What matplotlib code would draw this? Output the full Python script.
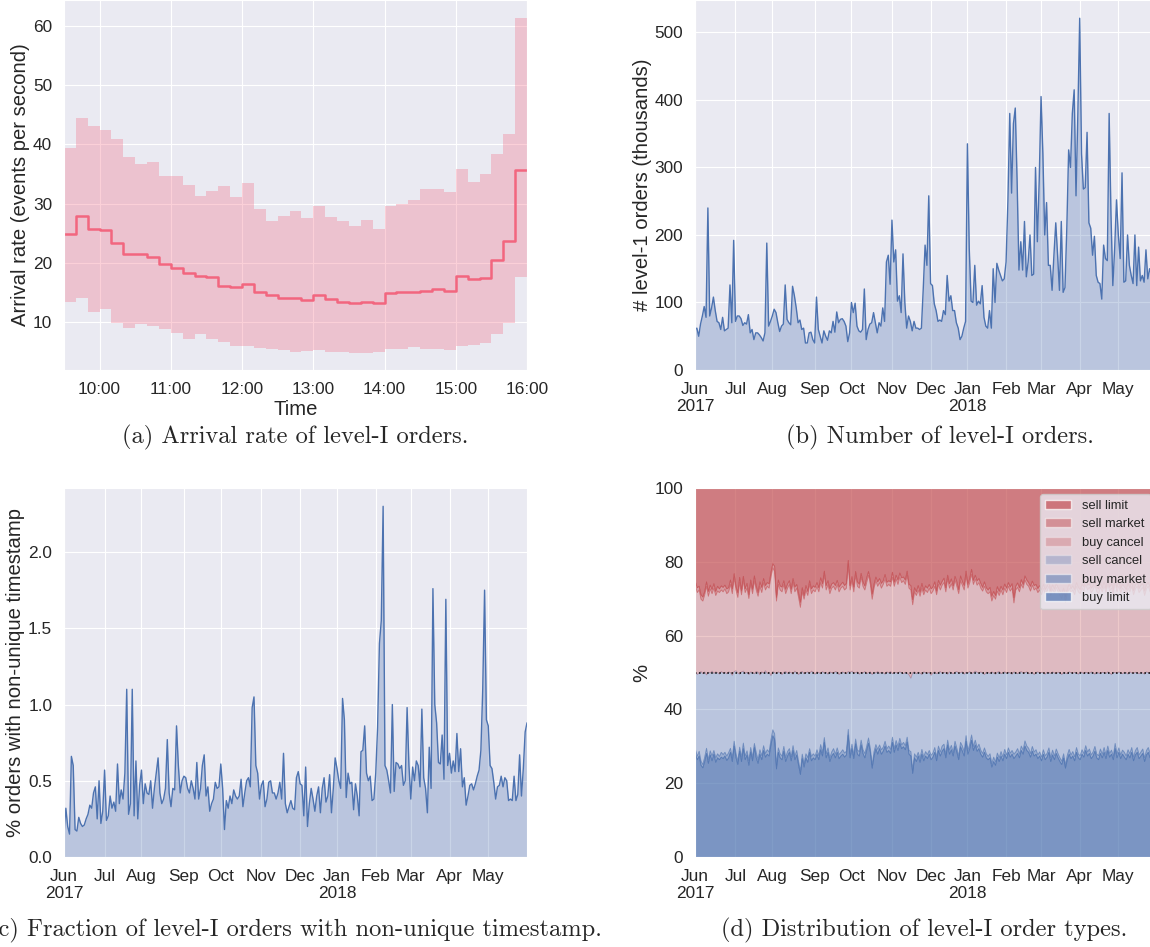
import numpy as np
import pandas as pd
import matplotlib
matplotlib.use("Agg")
import matplotlib.pyplot as plt
import seaborn as sns
from matplotlib.patches import Patch
from matplotlib.ticker import FuncFormatter

sns.set_style("darkgrid")
plt.rcParams["font.family"] = ["Liberation Sans", "DejaVu Sans"]

W, H = 1150, 947

# ---- (a) arrival rate per 10-minute bin, 9:30 - 16:00
rate_mean = [24.9, 27.9, 25.8, 25.5, 23.3, 21.5, 21.5, 21.0, 19.9, 19.2,
             18.4, 17.9, 17.6, 16.2, 15.9, 16.4, 15.1, 14.6, 14.2, 14.2,
             13.8, 14.6, 13.9, 13.4, 13.3, 13.5, 13.2, 14.9, 15.1, 15.2,
             15.3, 15.6, 15.3, 17.8, 17.4, 17.5, 20.6, 23.8, 35.6]
rate_upper = [39.4, 44.5, 43.1, 42.4, 40.9, 37.9, 36.7, 37.0, 34.7, 34.7,
              33.1, 31.3, 32.2, 33.0, 31.1, 33.5, 29.1, 27.1, 27.9, 28.7,
              27.6, 29.6, 27.7, 27.1, 26.2, 27.3, 25.8, 29.6, 30.0, 30.7,
              32.5, 32.5, 32.0, 35.8, 33.7, 35.0, 38.3, 41.8, 61.3]
rate_lower = [13.4, 14.1, 11.7, 12.3, 9.9, 9.1, 9.8, 9.4, 8.9, 8.3,
              7.2, 8.1, 7.2, 6.7, 6.1, 6.1, 5.7, 5.5, 5.4, 5.0,
              5.2, 5.3, 5.1, 5.1, 4.9, 4.8, 5.1, 5.5, 5.5, 5.8,
              5.6, 5.5, 5.3, 6.0, 6.2, 6.6, 8.0, 9.9, 17.7]

# ---- trading days Jun 2017 - May 2018 (NYSE holidays removed)
holidays = ["2017-07-04", "2017-09-04", "2017-11-23", "2017-12-25", "2018-01-01",
            "2018-01-15", "2018-02-19", "2018-03-30", "2018-05-28"]
days = pd.bdate_range("2017-06-01", "2018-05-31", freq="C", holidays=holidays)

# ---- (b) number of level-I orders (thousands)
orders = [60, 62, 50, 68, 80, 94, 78, 240, 80, 92,
          108, 88, 72, 70, 60, 78, 58, 60, 62, 126,
          70, 192, 72, 80, 80, 76, 66, 70, 68, 82,
          55, 60, 45, 55, 55, 52, 48, 43, 55, 188,
          65, 72, 80, 90, 85, 70, 57, 65, 68, 126,
          75, 70, 67, 124, 110, 92, 70, 74, 60, 62,
          40, 40, 55, 56, 45, 40, 108, 60, 50, 40,
          58, 50, 44, 58, 55, 72, 56, 86, 70, 75,
          76, 72, 65, 42, 55, 100, 85, 99, 65, 58,
          56, 60, 120, 45, 60, 68, 70, 85, 70, 55,
          70, 65, 92, 72, 160, 170, 127, 222, 160, 178,
          102, 110, 85, 172, 100, 62, 80, 72, 58, 72,
          62, 62, 60, 62, 120, 185, 155, 258, 128, 125,
          98, 88, 72, 74, 72, 88, 82, 140, 102, 110,
          88, 88, 70, 62, 45, 50, 62, 72, 335, 180,
          102, 100, 155, 96, 102, 98, 125, 78, 65, 62,
          88, 62, 150, 100, 158, 148, 140, 132, 135, 160,
          250, 380, 262, 365, 388, 280, 148, 190, 148, 220,
          138, 160, 200, 140, 142, 300, 190, 280, 405, 320,
          200, 248, 155, 155, 118, 170, 218, 170, 118, 220,
          115, 122, 210, 326, 300, 380, 415, 258, 380, 521,
          320, 268, 270, 352, 218, 210, 170, 198, 140, 130,
          128, 105, 185, 165, 162, 380, 230, 125, 180, 252,
          200, 165, 292, 130, 132, 200, 155, 140, 128, 200,
          125, 182, 132, 140, 130, 178, 135, 150, 140, 135,
          150, 145]

# ---- (c) % orders with non-unique timestamp
nonunique = [0.15, 0.32, 0.20, 0.15, 0.66, 0.60, 0.18, 0.17, 0.26, 0.22,
             0.20, 0.21, 0.25, 0.28, 0.34, 0.32, 0.42, 0.46, 0.25, 0.50,
             0.22, 0.30, 0.57, 0.24, 0.27, 0.40, 0.32, 0.36, 0.30, 0.61,
             0.35, 0.44, 0.38, 0.55, 1.10, 0.28, 0.35, 1.10, 0.27, 0.63,
             0.25, 0.47, 0.57, 0.35, 0.48, 0.42, 0.41, 0.50, 0.32, 0.45,
             0.55, 0.65, 0.42, 0.35, 0.38, 0.45, 0.77, 0.42, 0.33, 0.45,
             0.44, 0.86, 0.60, 0.42, 0.50, 0.53, 0.52, 0.45, 0.42, 0.50,
             0.45, 0.38, 0.62, 0.38, 0.45, 0.60, 0.67, 0.40, 0.46, 0.30,
             0.35, 0.38, 0.49, 0.45, 0.46, 0.61, 0.45, 0.18, 0.37, 0.32,
             0.40, 0.35, 0.44, 0.40, 0.38, 0.40, 0.51, 0.33, 0.42, 0.50,
             0.52, 0.46, 0.98, 1.05, 0.60, 0.55, 0.38, 0.47, 0.50, 0.33,
             0.38, 0.49, 0.50, 0.42, 0.42, 0.38, 0.42, 0.49, 0.38, 0.68,
             0.35, 0.29, 0.33, 0.37, 0.32, 0.31, 0.52, 0.56, 0.48, 0.47,
             0.27, 0.59, 0.20, 0.35, 0.45, 0.38, 0.30, 0.40, 0.46, 0.29,
             0.45, 0.52, 0.36, 0.40, 0.54, 0.29, 0.45, 0.65, 0.58, 0.50,
             0.45, 1.04, 0.90, 0.39, 0.55, 0.48, 0.49, 0.31, 0.48, 0.40,
             0.27, 0.69, 0.70, 0.86, 0.55, 0.50, 0.53, 0.37, 0.38, 0.55,
             0.85, 1.40, 1.55, 2.30, 0.60, 0.57, 0.50, 0.42, 1.00, 0.43,
             0.62, 0.61, 0.58, 0.60, 0.47, 0.50, 0.98, 0.60, 0.38, 0.59,
             0.50, 0.63, 0.60, 0.46, 0.97, 0.52, 0.45, 0.29, 0.72, 0.45,
             1.76, 1.00, 0.88, 0.62, 0.61, 0.80, 0.51, 1.69, 0.60, 0.68,
             0.55, 0.63, 0.56, 0.81, 0.56, 0.71, 0.46, 0.52, 0.34, 0.40,
             0.47, 0.48, 0.44, 0.48, 0.53, 0.57, 0.70, 1.10, 1.75, 0.90,
             0.86, 0.60, 0.58, 0.49, 0.38, 0.46, 0.47, 0.53, 0.46, 0.52,
             0.50, 0.37, 0.38, 0.37, 0.53, 0.37, 0.41, 0.67, 0.40, 0.58,
             0.82, 0.88]

# ---- (d) order type shares (%), stacked from the bottom
buy_limit = [28.0, 26.5, 27.5, 25.0, 24.3, 26.0, 28.2, 25.5, 27.8, 26.2,
             28.0, 25.8, 27.0, 26.5, 27.2, 26.8, 27.5, 26.3, 27.0, 28.5,
             26.0, 30.2, 27.0, 25.2, 28.8, 26.0, 29.5, 26.5, 27.8, 25.0,
             28.6, 26.2, 29.8, 27.0, 25.5, 28.0, 26.5, 29.0, 27.2, 28.0,
             27.5, 30.5, 33.0, 32.0, 24.0, 28.5, 27.0, 26.5, 28.8, 26.0,
             27.5, 28.5, 26.2, 29.0, 26.5, 27.8, 25.0, 22.5, 26.8, 24.5,
             27.0, 25.8, 28.5, 26.2, 27.0, 26.5, 28.0, 26.5, 29.2, 27.5,
             31.2, 27.0, 28.5, 26.0, 27.5, 28.2, 27.0, 28.5, 26.8, 27.5,
             28.0, 27.2, 27.8, 33.2, 27.0, 29.5, 26.8, 30.8, 28.0, 27.5,
             30.5, 28.2, 27.0, 29.0, 31.0, 28.5, 24.2, 27.5, 29.5, 28.0,
             29.5, 28.0, 28.8, 30.2, 28.5, 29.0, 28.2, 31.2, 28.5, 30.5,
             29.0, 31.0, 29.5, 30.0, 29.2, 31.3, 28.0, 27.5, 22.8, 27.0,
             26.0, 27.5, 25.8, 28.0, 26.2, 27.5, 26.8, 28.0, 26.5, 27.2,
             28.5, 26.2, 29.0, 27.5, 28.8, 29.5, 27.0, 30.5, 28.0, 29.2,
             27.5, 30.2, 28.5, 26.5, 30.0, 28.8, 27.5, 31.5, 28.0, 29.5,
             31.8, 29.0, 30.5, 28.8, 29.5, 28.0, 27.2, 28.5, 27.0, 26.5,
             27.0, 24.5, 26.0, 25.0, 27.2, 26.0, 27.5, 26.2, 28.0, 26.8,
             28.5, 27.2, 28.0, 26.8, 27.5, 28.2, 27.0, 29.0, 28.0, 30.2,
             29.0, 28.5, 27.2, 28.8, 27.5, 28.0, 26.8, 27.5, 26.2, 28.0,
             26.5, 27.2, 28.5, 26.0, 27.8, 26.5, 28.2, 27.0, 26.0, 25.2,
             27.0, 24.2, 26.5, 28.0, 26.8, 27.5, 26.2, 28.5, 27.0, 26.5,
             28.0, 27.2, 29.0, 27.5, 28.2, 26.8, 27.5, 28.8, 27.0, 26.5,
             28.2, 27.0, 28.5, 26.8, 29.0, 27.2, 28.0, 26.5, 29.5, 27.0,
             28.5, 26.8, 28.0, 27.2, 26.5, 28.0, 27.0, 28.5, 26.2, 27.8,
             28.5, 26.8, 27.5, 28.2, 26.0, 27.8, 28.5, 27.0, 29.0, 26.8,
             28.0, 27.5]
buy_market = [1.2, 1.0, 1.3, 1.1, 0.9, 1.2, 1.4, 1.0, 1.1, 1.3,
              1.0, 1.2, 1.1, 0.9, 1.3, 1.1, 1.0, 1.2, 1.4, 1.1,
              1.0, 1.3, 1.2, 0.9, 1.1, 1.2, 1.5, 1.0, 1.1, 1.3,
              1.2, 1.0, 1.1, 1.4, 1.0, 1.2, 1.1, 1.3, 1.0, 1.2,
              1.1, 1.4, 1.6, 1.5, 1.0, 1.2, 1.1, 1.0, 1.3, 1.1,
              1.2, 1.0, 1.1, 1.3, 1.0, 1.2, 1.1, 0.9, 1.2, 1.0,
              1.1, 1.3, 1.0, 1.2, 1.1, 1.0, 1.2, 1.1, 1.4, 1.0,
              1.3, 1.1, 1.2, 1.0, 1.1, 1.3, 1.0, 1.2, 1.1, 1.0,
              1.2, 1.1, 1.0, 1.5, 1.1, 1.2, 1.0, 1.3, 1.1, 1.2,
              1.3, 1.0, 1.2, 1.1, 1.4, 1.0, 0.9, 1.2, 1.1, 1.3,
              1.0, 1.2, 1.1, 1.3, 1.0, 1.2, 1.1, 1.4, 1.0, 1.2,
              1.1, 1.3, 1.0, 1.2, 1.1, 1.3, 1.0, 1.2, 0.9, 1.1,
              1.2, 1.0, 1.1, 1.3, 1.0, 1.2, 1.1, 1.0, 1.2, 1.1,
              1.3, 1.0, 1.2, 1.1, 1.4, 1.2, 1.0, 1.3, 1.1, 1.2,
              1.0, 1.3, 1.1, 1.0, 1.2, 1.4, 1.1, 1.5, 1.0, 1.2,
              1.4, 1.1, 1.3, 1.0, 1.2, 1.1, 1.0, 1.2, 1.1, 0.9,
              1.1, 1.0, 1.2, 0.9, 1.1, 1.0, 1.2, 1.1, 1.3, 1.0,
              1.2, 1.1, 1.0, 1.2, 1.1, 1.3, 1.0, 1.2, 1.1, 1.4,
              1.2, 1.1, 1.0, 1.3, 1.1, 1.2, 1.0, 1.1, 1.0, 1.2,
              1.1, 1.0, 1.2, 1.1, 1.3, 1.0, 1.2, 1.1, 1.0, 0.9,
              1.1, 0.9, 1.2, 1.3, 1.0, 1.2, 1.1, 1.3, 1.0, 1.1,
              1.2, 1.0, 1.3, 1.1, 1.2, 1.0, 1.1, 1.3, 1.0, 1.1,
              1.2, 1.0, 1.3, 1.1, 1.2, 1.0, 1.1, 1.0, 1.4, 1.1,
              1.2, 1.0, 1.1, 1.3, 1.0, 1.2, 1.1, 1.3, 1.0, 1.2,
              1.3, 1.0, 1.1, 1.2, 1.0, 1.2, 1.3, 1.1, 1.2, 1.0,
              1.1, 1.2]
# buy limit + buy market + sell cancel
bid_side = [50.2, 49.6, 50.1, 50.4, 49.8, 50.3, 49.5, 50.2, 50.0, 50.5,
            49.9, 50.3, 50.1, 49.7, 50.4, 50.0, 50.2, 49.8, 50.3, 50.1,
            49.4, 50.4, 50.6, 50.0, 49.7, 50.3, 50.5, 49.9, 50.2, 49.6,
            50.3, 50.1, 49.8, 50.4, 50.2, 49.5, 50.3, 50.0, 50.6, 49.9,
            50.2, 49.3, 50.4, 50.1, 49.8, 50.3, 50.0, 49.6, 50.2, 50.4,
            49.9, 50.3, 50.1, 49.7, 50.5, 50.0, 49.6, 50.2, 50.4, 49.8,
            50.1, 50.3, 49.9, 50.5, 50.2, 49.7, 50.3, 50.1, 49.8, 50.4,
            50.0, 50.2, 49.7, 50.3, 50.1, 49.9, 50.4, 50.2, 49.6, 50.1,
            50.3, 50.0, 49.8, 50.4, 50.2, 50.5, 49.9, 50.1, 50.3, 49.7,
            50.2, 50.0, 50.4, 49.8, 50.1, 50.3, 49.6, 50.2, 50.0, 50.4,
            49.9, 50.2, 50.1, 49.7, 50.3, 50.0, 50.4, 49.8, 50.2, 50.1,
            49.9, 50.3, 50.1, 49.8, 50.2, 50.0, 49.5, 48.6, 50.1, 50.3,
            49.8, 50.2, 50.0, 49.6, 50.3, 50.1, 49.9, 50.2, 49.4, 50.0,
            50.3, 49.8, 50.1, 50.4, 49.9, 50.2, 50.0, 49.7, 50.3, 50.1,
            49.8, 50.2, 50.4, 49.9, 50.1, 50.3, 49.7, 50.2, 50.0, 50.4,
            49.8, 50.1, 50.5, 50.2, 49.9, 50.3, 50.0, 49.6, 50.2, 50.1,
            49.9, 50.3, 50.0, 49.7, 50.2, 50.4, 49.8, 50.1, 50.3, 49.9,
            50.2, 50.0, 49.7, 50.3, 50.1, 49.8, 50.2, 50.4, 49.9, 50.1,
            50.3, 49.8, 50.0, 50.2, 49.6, 50.1, 50.3, 49.9, 50.2, 50.0,
            49.7, 50.2, 50.1, 49.9, 50.3, 50.0, 49.8, 50.2, 50.1, 49.6,
            50.2, 50.0, 49.8, 50.3, 50.1, 49.9, 50.2, 50.0, 49.7, 50.3,
            50.1, 49.8, 50.2, 50.0, 49.9, 50.3, 50.1, 49.7, 50.2, 50.0,
            49.8, 50.2, 50.1, 49.9, 50.3, 50.0, 49.6, 50.2, 50.1, 49.9,
            50.3, 50.0, 49.8, 50.2, 50.1, 49.7, 50.3, 50.0, 49.9, 50.2,
            50.1, 49.8, 50.2, 50.0, 49.7, 50.3, 50.1, 49.9, 50.2, 49.0,
            50.1, 50.0]
# bid side + buy cancel
below_sell = [73.5, 71.8, 72.5, 70.0, 69.5, 71.2, 73.5, 70.8, 72.8, 71.5,
              73.0, 71.0, 72.2, 71.8, 72.5, 72.0, 72.8, 71.5, 72.0, 74.0,
              71.5, 75.8, 72.5, 70.5, 74.5, 71.2, 75.0, 71.8, 73.0, 70.2,
              74.2, 71.5, 75.0, 72.5, 70.8, 73.5, 71.8, 74.5, 72.5, 73.5,
              73.0, 76.0, 78.5, 77.5, 69.5, 74.0, 72.5, 72.0, 74.0, 71.5,
              73.0, 74.0, 71.5, 74.5, 72.0, 73.0, 70.5, 67.8, 72.0, 70.0,
              72.5, 71.0, 74.0, 71.5, 72.5, 72.0, 73.5, 72.0, 74.5, 73.0,
              76.5, 72.5, 74.0, 71.5, 73.0, 73.5, 72.5, 74.0, 72.0, 73.0,
              73.5, 72.5, 73.0, 79.5, 72.5, 75.0, 72.0, 76.5, 73.5, 73.0,
              76.0, 73.5, 72.5, 74.5, 76.5, 74.0, 70.0, 73.0, 75.0, 73.5,
              74.5, 73.0, 74.0, 75.5, 73.5, 74.0, 73.5, 76.0, 73.5, 75.5,
              74.0, 76.0, 74.5, 75.0, 74.0, 76.5, 73.0, 72.5, 68.5, 72.0,
              71.0, 72.5, 70.8, 73.0, 71.2, 72.5, 71.8, 73.0, 71.5, 72.2,
              73.5, 71.2, 74.0, 72.5, 73.8, 74.5, 72.0, 75.5, 73.0, 74.2,
              72.5, 75.2, 73.5, 71.5, 75.0, 73.8, 72.5, 76.5, 73.0, 74.5,
              76.8, 74.0, 75.5, 73.8, 74.5, 73.0, 72.2, 73.5, 72.0, 71.5,
              72.0, 69.5, 71.0, 70.0, 72.2, 71.0, 72.5, 71.2, 73.0, 71.8,
              73.5, 72.2, 73.0, 69.0, 72.5, 73.2, 72.0, 74.0, 73.0, 75.2,
              74.0, 73.5, 72.2, 73.8, 72.5, 73.0, 71.8, 72.5, 71.2, 73.0,
              71.5, 72.2, 73.5, 71.0, 72.8, 71.5, 73.2, 72.0, 71.0, 70.2,
              72.0, 69.2, 71.5, 73.0, 71.8, 72.5, 71.2, 73.5, 72.0, 71.5,
              73.0, 72.2, 74.0, 72.5, 73.2, 71.8, 72.5, 73.8, 72.0, 71.5,
              73.2, 72.0, 73.5, 71.8, 74.0, 72.2, 73.0, 71.5, 74.5, 72.0,
              73.5, 71.8, 73.0, 72.2, 71.5, 73.0, 72.0, 73.5, 71.2, 72.8,
              73.5, 71.8, 72.5, 73.2, 71.0, 72.8, 73.5, 72.0, 74.0, 69.0,
              72.5, 72.0]
sell_market = [1.1, 1.3, 1.0, 1.2, 1.1, 0.9, 1.2, 1.3, 1.0, 1.1,
               1.2, 1.1, 1.3, 1.0, 1.1, 1.2, 1.0, 1.3, 1.1, 1.2,
               1.3, 1.1, 1.0, 1.2, 1.4, 1.1, 1.2, 1.0, 1.3, 1.1,
               1.0, 1.2, 1.3, 1.1, 1.0, 1.2, 1.4, 1.1, 1.2, 1.0,
               1.2, 1.3, 1.1, 1.4, 1.0, 1.2, 1.1, 1.3, 1.0, 1.2,
               1.1, 1.0, 1.2, 1.1, 1.3, 1.0, 1.2, 1.4, 1.1, 1.0,
               1.2, 1.1, 1.0, 1.3, 1.1, 1.2, 1.0, 1.1, 1.3, 1.2,
               1.1, 1.2, 1.0, 1.3, 1.1, 1.0, 1.2, 1.1, 1.3, 1.0,
               1.1, 1.2, 1.3, 1.0, 1.2, 1.1, 1.3, 1.0, 1.2, 1.1,
               1.0, 1.2, 1.1, 1.3, 1.0, 1.2, 1.4, 1.1, 1.0, 1.2,
               1.1, 1.3, 1.0, 1.2, 1.1, 1.0, 1.2, 1.3, 1.1, 1.0,
               1.2, 1.1, 1.3, 1.0, 1.2, 1.1, 1.0, 1.2, 1.4, 1.1,
               1.0, 1.2, 1.1, 1.3, 1.0, 1.1, 1.2, 1.0, 1.3, 1.1,
               1.2, 1.0, 1.1, 1.3, 1.0, 1.2, 1.1, 1.0, 1.2, 1.3,
               1.1, 1.0, 1.2, 1.1, 1.3, 1.0, 1.2, 1.1, 1.0, 1.2,
               1.3, 1.1, 1.0, 1.2, 1.1, 1.3, 1.0, 1.2, 1.1, 1.0,
               1.2, 1.3, 1.1, 1.0, 1.2, 1.1, 1.0, 1.3, 1.1, 1.2,
               1.0, 1.1, 1.2, 1.4, 1.0, 1.2, 1.1, 1.3, 1.0, 1.1,
               1.2, 1.0, 1.3, 1.1, 1.2, 1.0, 1.1, 1.2, 1.3, 1.0,
               1.1, 1.2, 1.0, 1.3, 1.1, 1.2, 1.0, 1.1, 1.2, 1.3,
               1.0, 1.4, 1.1, 1.2, 1.0, 1.1, 1.3, 1.0, 1.2, 1.1,
               1.0, 1.2, 1.1, 1.3, 1.0, 1.2, 1.1, 1.0, 1.2, 1.3,
               1.1, 1.0, 1.2, 1.1, 1.3, 1.0, 1.2, 1.1, 1.0, 1.2,
               1.3, 1.1, 1.0, 1.2, 1.1, 1.3, 1.0, 1.2, 1.1, 1.0,
               1.2, 1.1, 1.3, 1.0, 1.2, 1.1, 1.0, 1.2, 1.1, 1.4,
               1.0, 1.2]

for arr in (orders, nonunique, buy_limit, buy_market, bid_side, below_sell, sell_market):
    assert len(arr) == len(days), len(arr)

BLUE = "#4C72B0"
RED = "#C44E52"
PINK = "#f2667f"
TICK = 12.4
LAB = 14.6


def axes_px(x0, y0, x1, y1):
    return fig.add_axes([x0 / W, 1 - y1 / H, (x1 - x0) / W, (y1 - y0) / H])


def month_ticks(ax):
    idx, labels = [], []
    prev = None
    for i, d in enumerate(days):
        if d.month != prev:
            idx.append(i)
            lab = d.strftime("%b")
            if d.month == 6 and d.year == 2017 or d.month == 1:
                lab += "\n" + str(d.year)
            labels.append(lab)
            prev = d.month
    ax.set_xticks(idx)
    ax.set_xticklabels(labels)
    ax.set_xlim(0, len(days) - 1)


def style(ax):
    ax.tick_params(labelsize=TICK, pad=5)


fig = plt.figure(figsize=(W / 100, H / 100), dpi=100)

# (a)
ax = axes_px(64, 0, 527, 370)
edges = 9.5 + np.arange(len(rate_mean) + 1) / 6
ax.fill_between(edges, rate_lower + rate_lower[-1:], rate_upper + rate_upper[-1:],
                step="post", color=PINK, alpha=0.3, lw=0)
ax.step(edges, rate_mean + rate_mean[-1:], where="post", color=PINK, lw=1.8)
ax.set_xlim(9.5, 16)
ax.set_ylim(2.0, 64.3)
ax.set_xticks(range(10, 17))
ax.xaxis.set_major_formatter(FuncFormatter(lambda v, p: "%d:00" % v))
ax.set_yticks(range(10, 61, 10))
ax.set_xlabel("Time", fontsize=LAB, labelpad=2)
ax.set_ylabel("Arrival rate (events per second)", fontsize=LAB, labelpad=2)
style(ax)

x = np.arange(len(days))

# (b)
ax = axes_px(695, 0, 1157, 370)
ax.fill_between(x, 0, orders, color=BLUE, alpha=0.3, lw=0)
ax.plot(x, orders, color=BLUE, lw=1.0)
month_ticks(ax)
ax.set_ylim(0, 548)
ax.set_yticks(range(0, 501, 100))
ax.set_ylabel("# level-1 orders (thousands)", fontsize=LAB, labelpad=1.5)
style(ax)

# (c)
ax = axes_px(64, 488, 527, 857)
ax.fill_between(x, 0, nonunique, color=BLUE, alpha=0.3, lw=0)
ax.plot(x, nonunique, color=BLUE, lw=1.0)
month_ticks(ax)
ax.set_ylim(0, 2.42)
ax.set_yticks([0, 0.5, 1.0, 1.5, 2.0])
ax.yaxis.set_major_formatter(FuncFormatter(lambda v, p: "%.1f" % v))
ax.set_ylabel("% orders with non-unique timestamp", fontsize=LAB, labelpad=2)
style(ax)

# (d)
ax = axes_px(695, 488, 1157, 857)
bl = np.array(buy_limit)
bm = bl + np.array(buy_market)
bs = np.array(bid_side)
bc = np.array(below_sell)
sm = bc + np.array(sell_market)
layers = [
    ("buy limit", np.zeros(len(x)), bl, BLUE, 0.7),
    ("buy market", bl, bm, BLUE, 0.5),
    ("sell cancel", bm, bs, BLUE, 0.3),
    ("buy cancel", bs, bc, RED, 0.3),
    ("sell market", bc, sm, RED, 0.5),
    ("sell limit", sm, np.full(len(x), 100.0), RED, 0.7),
]
handles = []
for name, lo, hi, c, a in layers:
    ax.fill_between(x, lo, hi, color=c, alpha=a, lw=0.6)
    handles.append(Patch(facecolor=c, alpha=a, label=name))
ax.axhline(50, color="black", ls=":", lw=1.1)
month_ticks(ax)
ax.set_ylim(0, 100)
ax.set_yticks(range(0, 101, 20))
ax.set_ylabel("%", fontsize=LAB, labelpad=2)
ax.legend(handles=handles[::-1], loc="upper right", fontsize=9.3, frameon=True)
style(ax)

cap = dict(family=["cmr10", "DejaVu Serif"], fontsize=17.6, va="center")
fig.text(295 / W, 1 - 437 / H, "(a) Arrival rate of level-I orders.", ha="center", **cap)
fig.text(940 / W, 1 - 437 / H, "(b) Number of level-I orders.", ha="center", **cap)
# the reference crops this caption at the left edge
fig.text(602 / W, 1 - 930 / H, "(c) Fraction of level-I orders with non-unique timestamp.", ha="right", **cap)
fig.text(924 / W, 1 - 930 / H, "(d) Distribution of level-I order types.", ha="center", **cap)

fig.savefig("out.png", dpi=100)
